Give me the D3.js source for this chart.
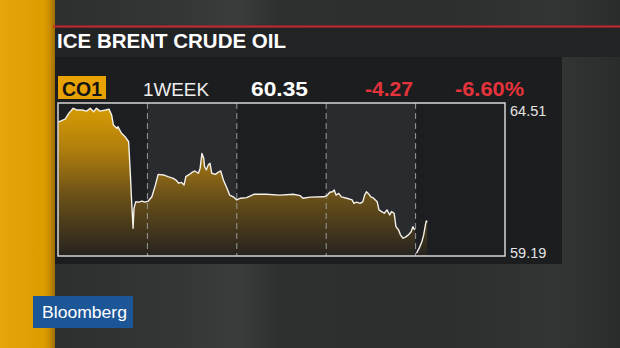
<!DOCTYPE html>
<html>
<head>
<meta charset="utf-8">
<script src="https://cdn.jsdelivr.net/npm/d3@7"></script>
<style>
  html, body { margin: 0; padding: 0; background: #2b2c2c; }
  svg { display: block; }
  text { font-family: "Liberation Sans", Arial, sans-serif; }
</style>
</head>
<body>
<div id="scene"></div>
<script>
// ---- data ----
var title = "ICE BRENT CRUDE OIL";
var ticker = "CO1";
var period = "1WEEK";
var lastPrice = "60.35";
var change = "-4.27";
var changePct = "-6.60%";
var yTicks = [59.19, 64.51];
var days = [0, 1, 2, 3, 4];

// time in trading days since start of window, price
var times = [0, 0.08, 0.12, 0.17, 0.21, 0.27, 0.32, 0.36, 0.4, 0.43, 0.47, 0.53, 0.57, 0.6, 0.62, 0.66, 0.67, 0.71, 0.75, 0.79,
  0.81, 0.82, 0.84, 0.85, 0.87, 0.9, 0.94, 0.97, 1.01, 1.05, 1.09, 1.12, 1.18, 1.23, 1.29, 1.32, 1.35, 1.38, 1.41, 1.43,
  1.46, 1.5, 1.53, 1.57, 1.59, 1.61, 1.63, 1.64, 1.66, 1.68, 1.7, 1.72, 1.76, 1.79, 1.82, 1.85, 1.89, 1.92, 1.96, 2.0,
  2.04, 2.11, 2.19, 2.33, 2.48, 2.63, 2.71, 2.74, 2.82, 2.97, 3.01, 3.04, 3.07, 3.09, 3.11, 3.14, 3.17, 3.23, 3.29, 3.31,
  3.34, 3.38, 3.41, 3.43, 3.45, 3.47, 3.5, 3.53, 3.57, 3.59, 3.62, 3.65, 3.68, 3.71, 3.73, 3.76, 3.78, 3.81, 3.83, 3.86,
  3.89, 3.92, 3.95, 3.97, 3.99, 4.0, 4.01, 4.04, 4.07, 4.09, 4.11, 4.12, 4.13];
var prices = [63.87, 63.98, 64.18, 64.36, 64.30, 64.30, 64.26, 64.36, 64.24, 64.36, 64.26, 64.30, 64.33, 64.12, 63.77, 63.65, 63.71, 63.48, 63.36, 63.18,
  62.01, 61.30, 60.13, 60.84, 61.07, 61.05, 61.09, 61.05, 61.09, 61.24, 61.66, 62.03, 62.01, 61.95, 61.89, 61.83, 61.72, 61.75, 61.66, 61.95,
  62.01, 62.10, 62.15, 62.07, 62.25, 62.77, 62.60, 62.30, 62.19, 62.36, 62.42, 62.07, 62.03, 62.10, 62.15, 61.83, 61.54, 61.30, 61.24, 61.13,
  61.19, 61.21, 61.33, 61.33, 61.30, 61.33, 61.28, 61.19, 61.23, 61.24, 61.28, 61.40, 61.42, 61.48, 61.30, 61.36, 61.24, 61.19, 61.13, 61.01,
  61.05, 61.01, 61.07, 61.30, 61.42, 61.36, 61.24, 61.19, 61.07, 60.78, 60.72, 60.66, 60.78, 60.60, 60.72, 60.66, 60.19, 60.07, 59.90, 59.78,
  59.83, 59.90, 60.01, 60.19, 60.07, null, 59.25, 59.43, 59.66, 59.89, 60.25, 60.39, 60.35];

var ctx = { w: 620, h: 348 };

var svg = d3.select("#scene").append("svg")
  .attr("width", ctx.w)
  .attr("height", ctx.h);

var defs = svg.append("defs");

var bgGrad = defs.append("linearGradient").attr("id", "bgGrad")
  .attr("x1", 0).attr("x2", 1).attr("y1", 0).attr("y2", 0);
[[0, "#2a2b2b"], [0.3, "#353636"], [0.38, "#3b3c3c"], [0.45, "#2e2f2f"], [0.7, "#2c2d2d"], [0.9, "#333434"], [1, "#2a2b2b"]]
  .forEach(function(s) { bgGrad.append("stop").attr("offset", s[0]).attr("stop-color", s[1]); });

var orangeGrad = defs.append("linearGradient").attr("id", "orangeGrad")
  .attr("x1", 0).attr("x2", 1).attr("y1", 0).attr("y2", 0);
[[0, "#e6a50a"], [0.8, "#dd9c00"], [0.9, "#c98d00"], [1, "#9e6e05"]]
  .forEach(function(s) { orangeGrad.append("stop").attr("offset", s[0]).attr("stop-color", s[1]); });

// background
svg.append("rect").attr("width", ctx.w).attr("height", ctx.h).attr("fill", "url(#bgGrad)");
svg.append("rect").attr("x", 0).attr("y", 0).attr("width", 55).attr("height", ctx.h).attr("fill", "url(#orangeGrad)");

// red rule + title bar
svg.append("rect").attr("x", 53).attr("y", 25.5).attr("width", ctx.w - 53).attr("height", 2).attr("fill", "#c4282e");
svg.append("rect").attr("x", 55).attr("y", 28).attr("width", ctx.w - 55).attr("height", 29).attr("fill", "#222325");
svg.append("text")
  .attr("x", 57).attr("y", 48)
  .attr("font-size", 20.5).attr("font-weight", "bold").attr("fill", "#ffffff")
  .attr("textLength", 229).attr("lengthAdjust", "spacingAndGlyphs")
  .text(title);

// chart panel
svg.append("rect").attr("x", 55).attr("y", 57).attr("width", 507).attr("height", 207).attr("fill", "#1c1d1f");

// header row
svg.append("rect").attr("x", 58).attr("y", 76).attr("width", 48).attr("height", 23).attr("fill", "#e8a204");
var header = [
  { t: ticker, x: 62, w: 40, bold: true, fill: "#141414", size: 19.5 },
  { t: period, x: 143, w: 66, bold: false, fill: "#eeeeee", size: 19 },
  { t: lastPrice, x: 251, w: 57, bold: true, fill: "#ffffff", size: 20 },
  { t: change, x: 365, w: 48, bold: true, fill: "#e5333b", size: 20 },
  { t: changePct, x: 455, w: 69, bold: true, fill: "#e5333b", size: 20 }
];
svg.selectAll(".hdr").data(header).enter().append("text")
  .attr("class", "hdr")
  .attr("x", function(d) { return d.x; })
  .attr("y", 96)
  .attr("font-size", function(d) { return d.size; })
  .attr("font-weight", function(d) { return d.bold ? "bold" : "normal"; })
  .attr("fill", function(d) { return d.fill; })
  .attr("textLength", function(d) { return d.w; })
  .attr("lengthAdjust", "spacingAndGlyphs")
  .text(function(d) { return d.t; });

// plot area
var plot = { x0: 58, x1: 505, y0: 103, y1: 256 };
var x = d3.scaleLinear().domain([0, 5]).range([plot.x0, plot.x1]);
var y = d3.scaleLinear().domain([yTicks[0], yTicks[1]]).range([255, 104]);

var g = svg.append("g");

g.selectAll(".col").data(days).enter().append("rect")
  .attr("x", function(d) { return x(d); })
  .attr("y", plot.y0)
  .attr("width", function(d) { return x(d + 1) - x(d); })
  .attr("height", plot.y1 - plot.y0)
  .attr("fill", function(d) { return d % 2 === 1 ? "#2a2b2f" : "#1d1e21"; });

var fillGrad = defs.append("linearGradient").attr("id", "fillGrad")
  .attr("gradientUnits", "userSpaceOnUse")
  .attr("x1", 0).attr("x2", 0).attr("y1", plot.y0).attr("y2", plot.y1);
[[0, "#e4a500"], [0.3, "#b8840c"], [0.6, "#705418"], [1, "#26231f"]]
  .forEach(function(s) { fillGrad.append("stop").attr("offset", s[0]).attr("stop-color", s[1]); });

var series = times.map(function(t, i) { return { t: t, p: prices[i] }; });

var area = d3.area()
  .defined(function(d) { return d.p !== null; })
  .x(function(d) { return x(d.t); })
  .y0(plot.y1)
  .y1(function(d) { return y(d.p); });

var line = d3.line()
  .defined(function(d) { return d.p !== null; })
  .x(function(d) { return x(d.t); })
  .y(function(d) { return y(d.p); });

g.append("path").datum(series).attr("d", area).attr("fill", "url(#fillGrad)").attr("opacity", 0.95);

// day separators
g.selectAll(".sep").data(days.slice(1)).enter().append("line")
  .attr("x1", function(d) { return x(d); })
  .attr("x2", function(d) { return x(d); })
  .attr("y1", plot.y0).attr("y2", plot.y1)
  .attr("stroke", "#9a9a9a").attr("stroke-width", 1)
  .attr("stroke-dasharray", "6,4");

g.append("path").datum(series).attr("d", line)
  .attr("fill", "none").attr("stroke", "#f4f1ea").attr("stroke-width", 1.4)
  .attr("stroke-linejoin", "round");

g.append("rect")
  .attr("x", plot.x0).attr("y", plot.y0)
  .attr("width", plot.x1 - plot.x0).attr("height", plot.y1 - plot.y0)
  .attr("fill", "none").attr("stroke", "#d6d6d6").attr("stroke-width", 1.5);

// y labels (top and bottom of range)
var yAxis = d3.axisRight(y).tickValues(yTicks).tickSize(0).tickPadding(5)
  .tickFormat(d3.format(".2f"));
var ya = svg.append("g").attr("transform", "translate(" + plot.x1 + ",0)").call(yAxis);
ya.select(".domain").remove();
ya.selectAll("text")
  .attr("font-family", "Liberation Sans, Arial, sans-serif")
  .attr("font-size", 14.5)
  .attr("fill", "#e4e4e4")
  .attr("dy", function(d) { return d === yTicks[1] ? "0.76em" : "0.15em"; });

// Bloomberg tag
svg.append("rect").attr("x", 33).attr("y", 296).attr("width", 100).attr("height", 32).attr("fill", "#1d5697");
svg.append("text")
  .attr("x", 42).attr("y", 318)
  .attr("font-family", "Open Sans, Liberation Sans, sans-serif")
  .attr("font-size", 17).attr("fill", "#ffffff")
  .attr("textLength", 85).attr("lengthAdjust", "spacingAndGlyphs")
  .text("Bloomberg");
</script>
</body>
</html>
